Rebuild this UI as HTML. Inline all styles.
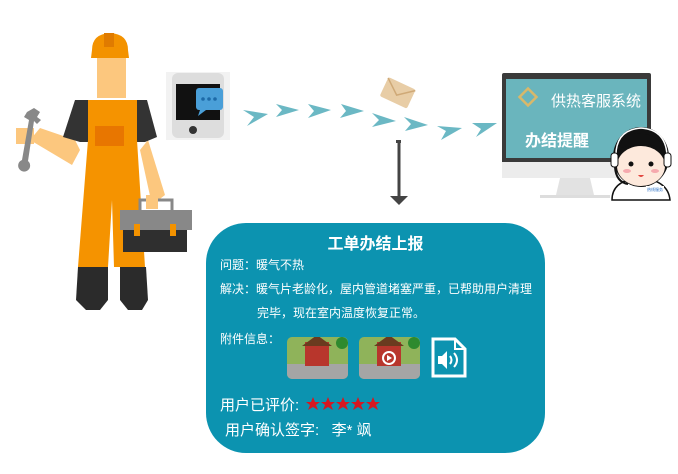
<!DOCTYPE html>
<html><head><meta charset="utf-8"><style>
body{margin:0;background:#fff;width:678px;height:474px;overflow:hidden;font-family:"Liberation Sans","Noto Sans CJK SC",sans-serif}
</style></head><body>
<svg width="678" height="474" viewBox="0 0 678 474" xmlns="http://www.w3.org/2000/svg" style="position:absolute;left:0;top:0">
<polygon points="75,140 40,128 30,140 72,165 80,150" fill="#fcc77e"/>
<polygon points="148,140 165,195 152,205 140,150" fill="#fcc77e"/>
<rect x="16" y="128" width="18" height="16" fill="#fcc77e"/>
<path d="M34,108 l6,4 -3,5 4,3 -4,4 -3,-3 -6,40 a6,6 0 1 1 -6,-1 l7,-40 -5,-3 3,-5z" fill="#888"/>
<rect x="97" y="58" width="29" height="40" fill="#fcc77e"/>
<path d="M92,50 Q92,34 110,33 Q128,34 128,50 L129,58 L91,58Z" fill="#f39200"/>
<rect x="104" y="33" width="10" height="14" fill="#e07b00"/>
<polygon points="63,137 75,100 147,100 157,137 145,142 80,142" fill="#333"/>
<polygon points="88,100 137,100 137,140 145,267 114,267 112,200 108,267 78,267 88,140" fill="#f59300"/>
<rect x="95" y="126" width="29" height="20" fill="#e87600"/>
<polygon points="78,267 108,267 108,300 100,310 86,310 76,300" fill="#2b2b2b"/>
<polygon points="120,267 146,267 148,300 142,310 128,310 120,300" fill="#2b2b2b"/>
<rect x="140" y="200" width="32" height="12" fill="none" stroke="#888" stroke-width="3"/>
<rect x="120" y="210" width="72" height="20" fill="#888"/>
<rect x="123" y="230" width="64" height="22" fill="#2f2f2f"/>
<rect x="134" y="224" width="6" height="12" fill="#f39200"/><rect x="170" y="224" width="6" height="12" fill="#f39200"/>
<rect x="146" y="195" width="12" height="14" fill="#fcc77e"/>
<rect x="166" y="72" width="64" height="68" fill="#f2f2f2"/>
<rect x="172" y="73" width="52" height="65" rx="6" fill="#ddd"/>
<rect x="176" y="84" width="44" height="36" fill="#111"/>
<circle cx="193" cy="130" r="4" fill="#333"/>
<rect x="196" y="88" width="27" height="22" rx="3" fill="#4a9fd8"/>
<polygon points="200,110 206,110 198,116" fill="#4a9fd8"/>
<circle cx="203" cy="99" r="1.8" fill="#1d6aa8"/><circle cx="209" cy="99" r="1.8" fill="#1d6aa8"/><circle cx="215" cy="99" r="1.8" fill="#1d6aa8"/>
<g fill="#6bb8c4">
<polygon points="243,110 268,114 247,126 254,117"/>
<polygon points="276,104 299,110 276,117 282,110"/>
<polygon points="308,104 331,110 308,118 314,111"/>
<polygon points="341,104 364,111 340,118 346,111"/>
<polygon points="372,113 396,121 372,127 379,120"/>
<polygon points="404,117 428,125 405,131 411,124"/>
<polygon points="437,126 462,128 441,140 446,131"/>
<polygon points="472,123 497,123 476,137 481,129"/>
</g>
<g transform="rotate(25 397 92)"><rect x="383" y="82" width="30" height="21" rx="2" fill="#e8cda6"/><polyline points="383,83 398,95 413,83" fill="none" stroke="#cfa977" stroke-width="1.5"/></g>
<line x1="399" y1="141" x2="399" y2="197" stroke="#444" stroke-width="3"/>
<rect x="396" y="140" width="5" height="3" fill="#444"/>
<polygon points="390,196 408,196 399,205" fill="#444"/>
<rect x="502" y="73" width="149" height="105" rx="2" fill="#3a3a3a"/>
<rect x="502" y="162" width="149" height="16" fill="#ececec"/>
<rect x="506" y="79" width="141" height="79" fill="#6ab5bd"/>
<polygon points="560,178 590,178 594,195 556,195" fill="#e2e2e2"/>
<rect x="540" y="195" width="70" height="3" fill="#ddd"/>
<g transform="rotate(45 528 97)"><rect x="522" y="91" width="12" height="12" fill="none" stroke="#d9b86a" stroke-width="2.5"/></g>
<text x="551" y="106" font-size="15" fill="#fff">供热客服系统</text>
<text x="525" y="146" font-size="16" font-weight="bold" fill="#fff">办结提醒</text>
<path d="M612,200 Q612,180 640,178 Q668,180 670,200Z" fill="#fff" stroke="#111" stroke-width="1.5"/>
<ellipse cx="641" cy="157" rx="28" ry="30" fill="#111"/>
<ellipse cx="641" cy="166" rx="24" ry="20" fill="#fde9dc"/>
<path d="M617,150 Q625,130 645,134 Q660,137 665,150 Q650,142 640,146 Q625,145 617,150Z" fill="#111"/>
<circle cx="631" cy="164" r="2.5" fill="#111"/><circle cx="651" cy="164" r="2.5" fill="#111"/>
<ellipse cx="627" cy="171" rx="4" ry="2" fill="#f6a9ae"/><ellipse cx="655" cy="171" rx="4" ry="2" fill="#f6a9ae"/>
<path d="M638,175 q3,4 6,0z" fill="#e2463f"/>
<path d="M616,160 Q614,130 641,128 Q668,130 667,160" fill="none" stroke="#fff" stroke-width="1.5"/>
<rect x="611" y="153" width="7" height="14" rx="3" fill="#fff" stroke="#111"/><rect x="664" y="153" width="7" height="14" rx="3" fill="#fff" stroke="#111"/>
<path d="M615,167 Q616,182 628,184" fill="none" stroke="#111" stroke-width="2"/>
<rect x="646" y="186" width="18" height="10" fill="#fff"/>
<text x="647" y="191" font-size="4" fill="#2a6fc4">热线服务</text>
<rect x="206" y="223" width="339" height="230" rx="40" fill="#0c93b0"/>
</svg>
<div style="position:absolute;left:206px;top:230px;width:339px;text-align:center;color:#fff;font-size:16px;font-weight:bold">工单办结上报</div>
<div style="position:absolute;left:220px;top:258px;color:#fff;font-size:12px;line-height:15px">问题：暖气不热</div>
<div style="position:absolute;left:220px;top:282px;color:#fff;font-size:12px;line-height:15px;white-space:nowrap">解决：暖气片老龄化，屋内管道堵塞严重，已帮助用户清理</div>
<div style="position:absolute;left:257px;top:306px;color:#fff;font-size:12px;line-height:15px">完毕，现在室内温度恢复正常。</div>
<div style="position:absolute;left:220px;top:332px;color:#fff;font-size:12px;line-height:15px">附件信息：</div>
<svg width="678" height="474" style="position:absolute;left:0;top:0">
<defs><clipPath id="c1"><rect x="287" y="337" width="61" height="42" rx="5"/></clipPath><clipPath id="c2"><rect x="359" y="337" width="61" height="42" rx="5"/></clipPath></defs>
<g clip-path="url(#c1)"><rect x="287" y="337" width="61" height="42" fill="#8fb35a"/><rect x="287" y="364" width="61" height="15" fill="#a5a5a5"/><rect x="305" y="342" width="24" height="24" fill="#b8362c"/><polygon points="302,346 317,335 332,346" fill="#6a3b1f"/><circle cx="342" cy="343" r="6" fill="#2e8a2e"/></g>
<g clip-path="url(#c2)"><rect x="359" y="337" width="61" height="42" fill="#8fb35a"/><rect x="359" y="364" width="61" height="15" fill="#a5a5a5"/><rect x="377" y="342" width="24" height="24" fill="#b8362c"/><polygon points="374,346 389,335 404,346" fill="#6a3b1f"/><circle cx="414" cy="343" r="6" fill="#2e8a2e"/><circle cx="389" cy="358" r="6" fill="none" stroke="#fff" stroke-width="2"/><polygon points="387,355 392,358 387,361" fill="#fff"/></g>
<path d="M433,339 h22 l10,10 v27 h-32z" fill="none" stroke="#fff" stroke-width="3"/>
<path d="M455,339 v10 h10" fill="none" stroke="#fff" stroke-width="2"/>
<polygon points="438,356 442,356 447,351 447,369 442,364 438,364" fill="#fff"/>
<path d="M450,356 q3,4 0,8 M454,353 q6,7 0,14" fill="none" stroke="#fff" stroke-width="2"/>
<g fill="#d7171f">
<polygon points="313,397 315,402 320,402 316,405 318,410 313,407 308,410 310,405 306,402 311,402"/>
<polygon points="328,397 330,402 335,402 331,405 333,410 328,407 323,410 325,405 321,402 326,402"/>
<polygon points="343,397 345,402 350,402 346,405 348,410 343,407 338,410 340,405 336,402 341,402"/>
<polygon points="358,397 360,402 365,402 361,405 363,410 358,407 353,410 355,405 351,402 356,402"/>
<polygon points="373,397 375,402 380,402 376,405 378,410 373,407 368,410 370,405 366,402 371,402"/>
</g>
</svg>
<div style="position:absolute;left:220px;top:397px;color:#fff;font-size:15px;line-height:18px">用户已评价:</div>
<div style="position:absolute;left:225px;top:422px;color:#fff;font-size:15px;line-height:18px">用户确认签字: &nbsp;&nbsp;李* 飒</div>
</body></html>
